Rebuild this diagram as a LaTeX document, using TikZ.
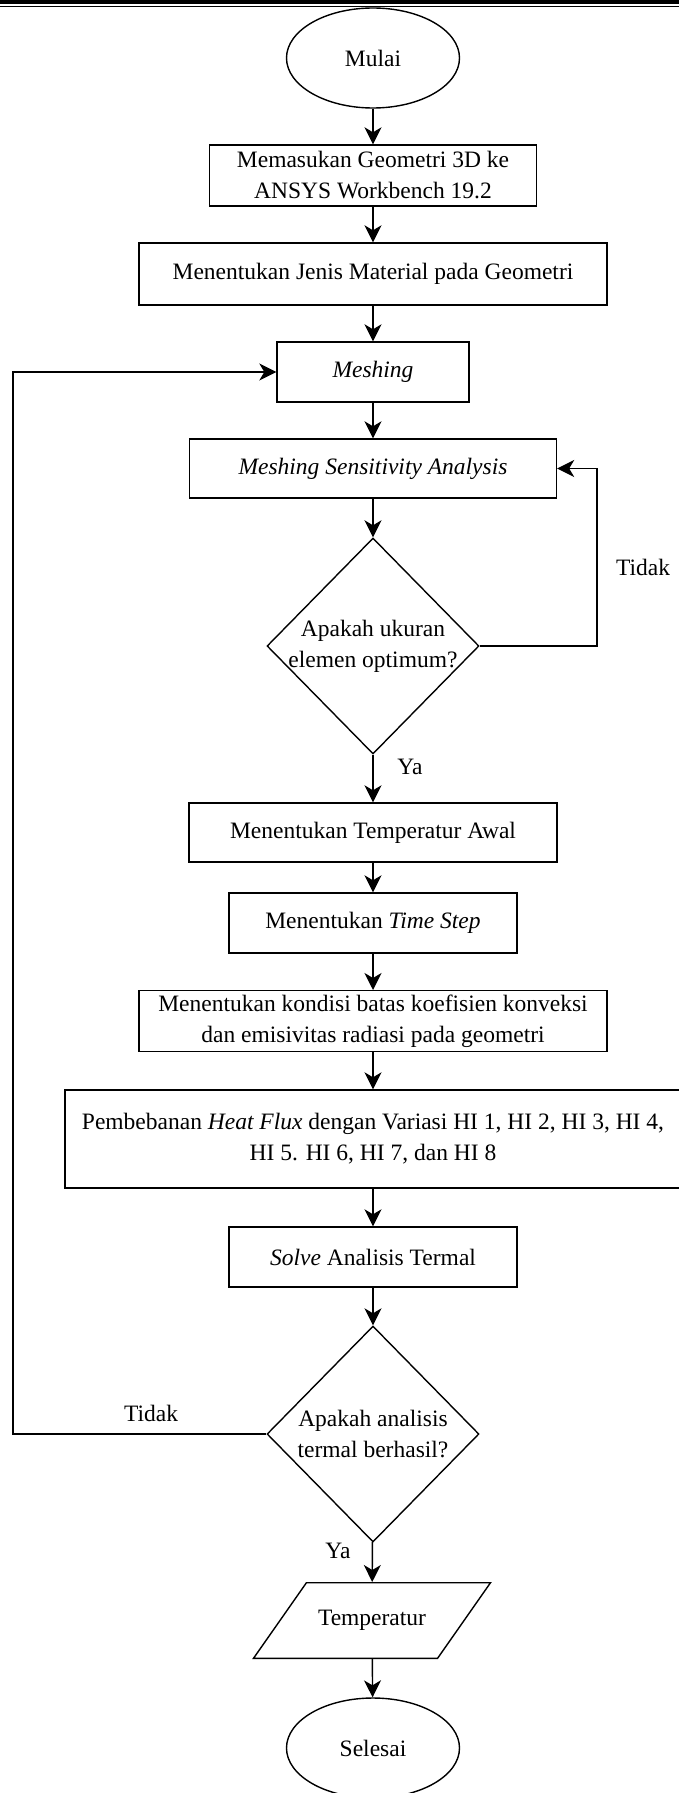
\documentclass[tikz,border=0pt]{standalone}
\usepackage{fontspec}
\setmainfont{Liberation Serif}
\usetikzlibrary{shapes.geometric,arrows.meta}
\tikzset{
  base/.style={draw=black, line width=0.7pt, font=\fontsize{11.75}{15.5}\selectfont, align=center, inner sep=2pt},
  box/.style={base, rectangle},
  term/.style={base, ellipse, minimum width=86.5pt, minimum height=50pt},
  dec/.style={base, diamond, inner sep=0pt, minimum width=106pt, minimum height=108pt},
  io/.style={base, trapezium, trapezium left angle=55, trapezium right angle=125, trapezium stretches body=true, inner ysep=13.8pt},
  arr/.style={line width=0.7pt, -{Stealth[length=8.5pt,width=8.5pt,inset=2.5pt]}},
  lbl/.style={font=\fontsize{11.75}{15.5}\selectfont, align=center}
}

\begin{document}
\begin{tikzpicture}[x=0.5pt,y=-0.5pt]
\useasboundingbox (0,0) rectangle (679,1793);
% page rule
\draw[line width=2.25pt] (0,2.25) -- (679,2.25);
\draw[line width=0.5pt] (0,7) -- (679,7);

\node[term] (start) at (373,58) {Mulai};
\node[box, minimum width=163.5pt, minimum height=30.5pt] (geom) at (373,175.5) {Memasukan Geometri 3D ke\\ANSYS Workbench 19.2};
\node[box, minimum width=234pt, minimum height=31pt] (mat) at (373,274) {Menentukan Jenis Material pada Geometri};
\node[box, minimum width=96pt, minimum height=30pt] (mesh) at (373,372) {\textit{Meshing}};
\node[box, minimum width=183.5pt, minimum height=29.5pt] (sens) at (373,468.5) {\textit{Meshing Sensitivity Analysis}};
\node[dec, label={[lbl]center:Apakah ukuran\\elemen optimum?}] (dec1) at (373,646) {};
\node[box, minimum width=184pt, minimum height=29.5pt] (temp) at (373,832.5) {Menentukan Temperatur Awal};
\node[box, minimum width=144pt, minimum height=30pt] (tstep) at (373,923) {Menentukan \textit{Time Step}};
\node[box, minimum width=234pt, minimum height=30pt] (bc) at (373,1021) {Menentukan kondisi batas koefisien konveksi\\dan emisivitas radiasi pada geometri};
\node[box, minimum width=308pt, minimum height=49pt] (flux) at (373,1139) {Pembebanan \textit{Heat Flux} dengan Variasi HI 1, HI 2, HI 3, HI 4,\\HI 5. HI 6, HI 7, dan HI 8};
\node[box, minimum width=144pt, minimum height=30pt] (solve) at (373,1257) {\textit{Solve} Analisis Termal};
\node[dec, label={[lbl]center:Apakah analisis\\termal berhasil?}] (dec2) at (373,1434) {};
\node[io, minimum width=118.5pt] (out) at (372,1620.5) {Temperatur};
\node[term] (stop) at (373,1748) {Selesai};

\coordinate (rloop) at (597,468.5);
\coordinate (lloop) at (13,372);

\draw[arr] (start) -- (geom);
\draw[arr] (geom) -- (mat);
\draw[arr] (mat) -- (mesh);
\draw[arr] (mesh) -- (sens);
\draw[arr] (sens) -- (dec1);
\draw[arr] (dec1) -- (temp);
\draw[arr] (dec1.east) -| (rloop) -- (sens.east);
\draw[arr] (temp) -- (tstep);
\draw[arr] (tstep) -- (bc);
\draw[arr] (bc) -- (flux);
\draw[arr] (flux) -- (solve);
\draw[arr] (solve) -- (dec2);
\draw[arr] (dec2) -- (out);
\draw[arr] (dec2.west) -| (lloop) -- (mesh.west);
\draw[arr] (out) -- (stop);

\node[lbl] (t1) at (643,567) {Tidak};
\node[lbl] (y1) at (410,767) {Ya};
\node[lbl] (t2) at (151,1413) {Tidak};
\node[lbl] (y2) at (338,1551) {Ya};
\end{tikzpicture}
\end{document}
